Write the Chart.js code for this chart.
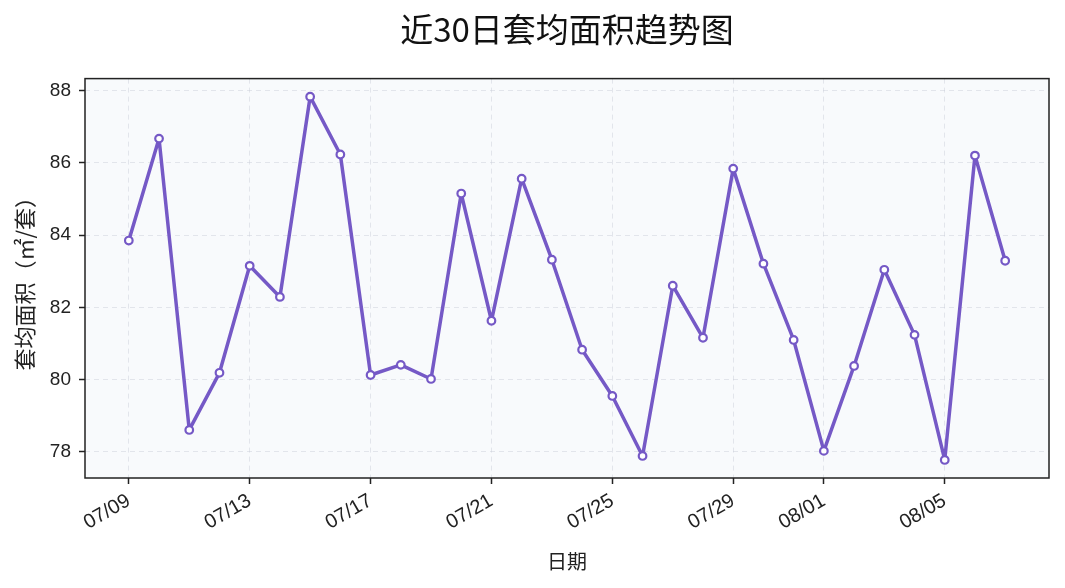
<!DOCTYPE html>
<html lang="zh">
<head>
<meta charset="UTF-8">
<title>近30日套均面积趋势图</title>
<script src="https://cdn.jsdelivr.net/npm/chart.js"></script>
<style>
  html, body { margin: 0; padding: 0; background: #fff; }
  #wrap { width: 1065px; height: 588px; }
</style>
</head>
<body>
<div id="wrap"><canvas id="chart" width="1065" height="588"></canvas></div>
<script>
    const dates = ['07/09','07/10','07/11','07/12','07/13','07/14','07/15','07/16','07/17','07/18',
                   '07/19','07/20','07/21','07/22','07/23','07/24','07/25','07/26','07/27','07/28',
                   '07/29','07/30','07/31','08/01','08/02','08/03','08/04','08/05','08/06','08/07'];
    const avgArea = [83.85, 86.67, 78.61, 80.19, 83.15, 82.29, 87.83, 86.23, 80.13, 80.41,
                     80.02, 85.15, 81.63, 85.56, 83.32, 80.83, 79.55, 77.89, 82.60, 81.16,
                     85.84, 83.21, 81.10, 78.03, 80.38, 83.04, 81.24, 77.78, 86.20, 83.29];
    const tickDates = ['07/09','07/13','07/17','07/21','07/25','07/29','08/01','08/05'];
    const yTicks = [78, 80, 82, 84, 86, 88];

    const font = "'Liberation Sans', 'Noto Sans CJK SC', sans-serif";
    const cjk = "'Noto Sans CJK SC', sans-serif";
    const lineColor = '#7559c6';

    // plot background + frame like matplotlib
    const frame = {
        id: 'frame',
        beforeDraw(chart) {
            const a = chart.chartArea, ctx = chart.ctx;
            ctx.save();
            ctx.fillStyle = '#f8fafc';
            ctx.fillRect(a.left, a.top, a.right - a.left, a.bottom - a.top);
            ctx.restore();
        },
        afterDraw(chart) {
            const a = chart.chartArea, ctx = chart.ctx;
            ctx.save();
            ctx.strokeStyle = '#222';
            ctx.lineWidth = 1.5;
            ctx.strokeRect(a.left, a.top, a.right - a.left, a.bottom - a.top);
            ctx.restore();
        }
    };

    new Chart(document.getElementById('chart'), {
        type: 'line',
        data: {
            datasets: [{
                data: avgArea.map((v, i) => ({ x: i, y: v })),
                borderColor: lineColor,
                borderWidth: 3.5,
                borderJoinStyle: 'round',
                pointRadius: 3.8,
                pointBorderWidth: 2.2,
                pointBackgroundColor: '#ffffff',
                pointBorderColor: lineColor,
                tension: 0
            }]
        },
        options: {
            responsive: false,
            animation: false,
            layout: { padding: { left: 10, right: 16, top: 0, bottom: 6 } },
            plugins: {
                legend: { display: false },
                tooltip: { enabled: false },
                title: {
                    display: true,
                    fullSize: false,
                    text: '近30日套均面积趋势图',
                    color: '#111',
                    font: { family: cjk, size: 33, weight: 'normal' },
                    padding: { top: 10, bottom: 29 }
                }
            },
            scales: {
                x: {
                    type: 'linear',
                    min: -1.45,
                    max: 30.45,
                    afterBuildTicks(scale) {
                        scale.ticks = tickDates.map(d => ({ value: dates.indexOf(d) }));
                    },
                    afterFit(scale) { scale.height = 104; },
                    ticks: {
                        callback: v => dates[v],
                        minRotation: 30,
                        maxRotation: 30,
                        color: '#222',
                        font: { family: font, size: 20 },
                        padding: 5
                    },
                    grid: {
                        color: 'rgba(200,205,215,0.45)',
                        tickColor: '#222',
                        tickLength: 6,
                        tickWidth: 1.5
                    },
                    border: { display: false, dash: [5, 4] },
                    title: {
                        display: true,
                        text: '日期',
                        color: '#222',
                        font: { family: cjk, size: 20 },
                        padding: { top: 2, bottom: 9 }
                    }
                },
                y: {
                    min: 77.28,
                    max: 88.33,
                    afterBuildTicks(scale) {
                        scale.ticks = yTicks.map(v => ({ value: v }));
                    },
                    afterFit(scale) { scale.width = 75; },
                    ticks: {
                        color: '#222',
                        font: { family: font, size: 19 },
                        padding: 8
                    },
                    grid: {
                        color: 'rgba(200,205,215,0.45)',
                        tickColor: '#222',
                        tickLength: 6,
                        tickWidth: 1.5
                    },
                    border: { display: false, dash: [5, 4] },
                    title: {
                        display: true,
                        text: '套均面积（㎡/套）',
                        color: '#222',
                        font: { family: cjk, size: 22 },
                        padding: { top: 1, bottom: 0 }
                    }
                }
            }
        },
        plugins: [frame]
    });
</script>
</body>
</html>
